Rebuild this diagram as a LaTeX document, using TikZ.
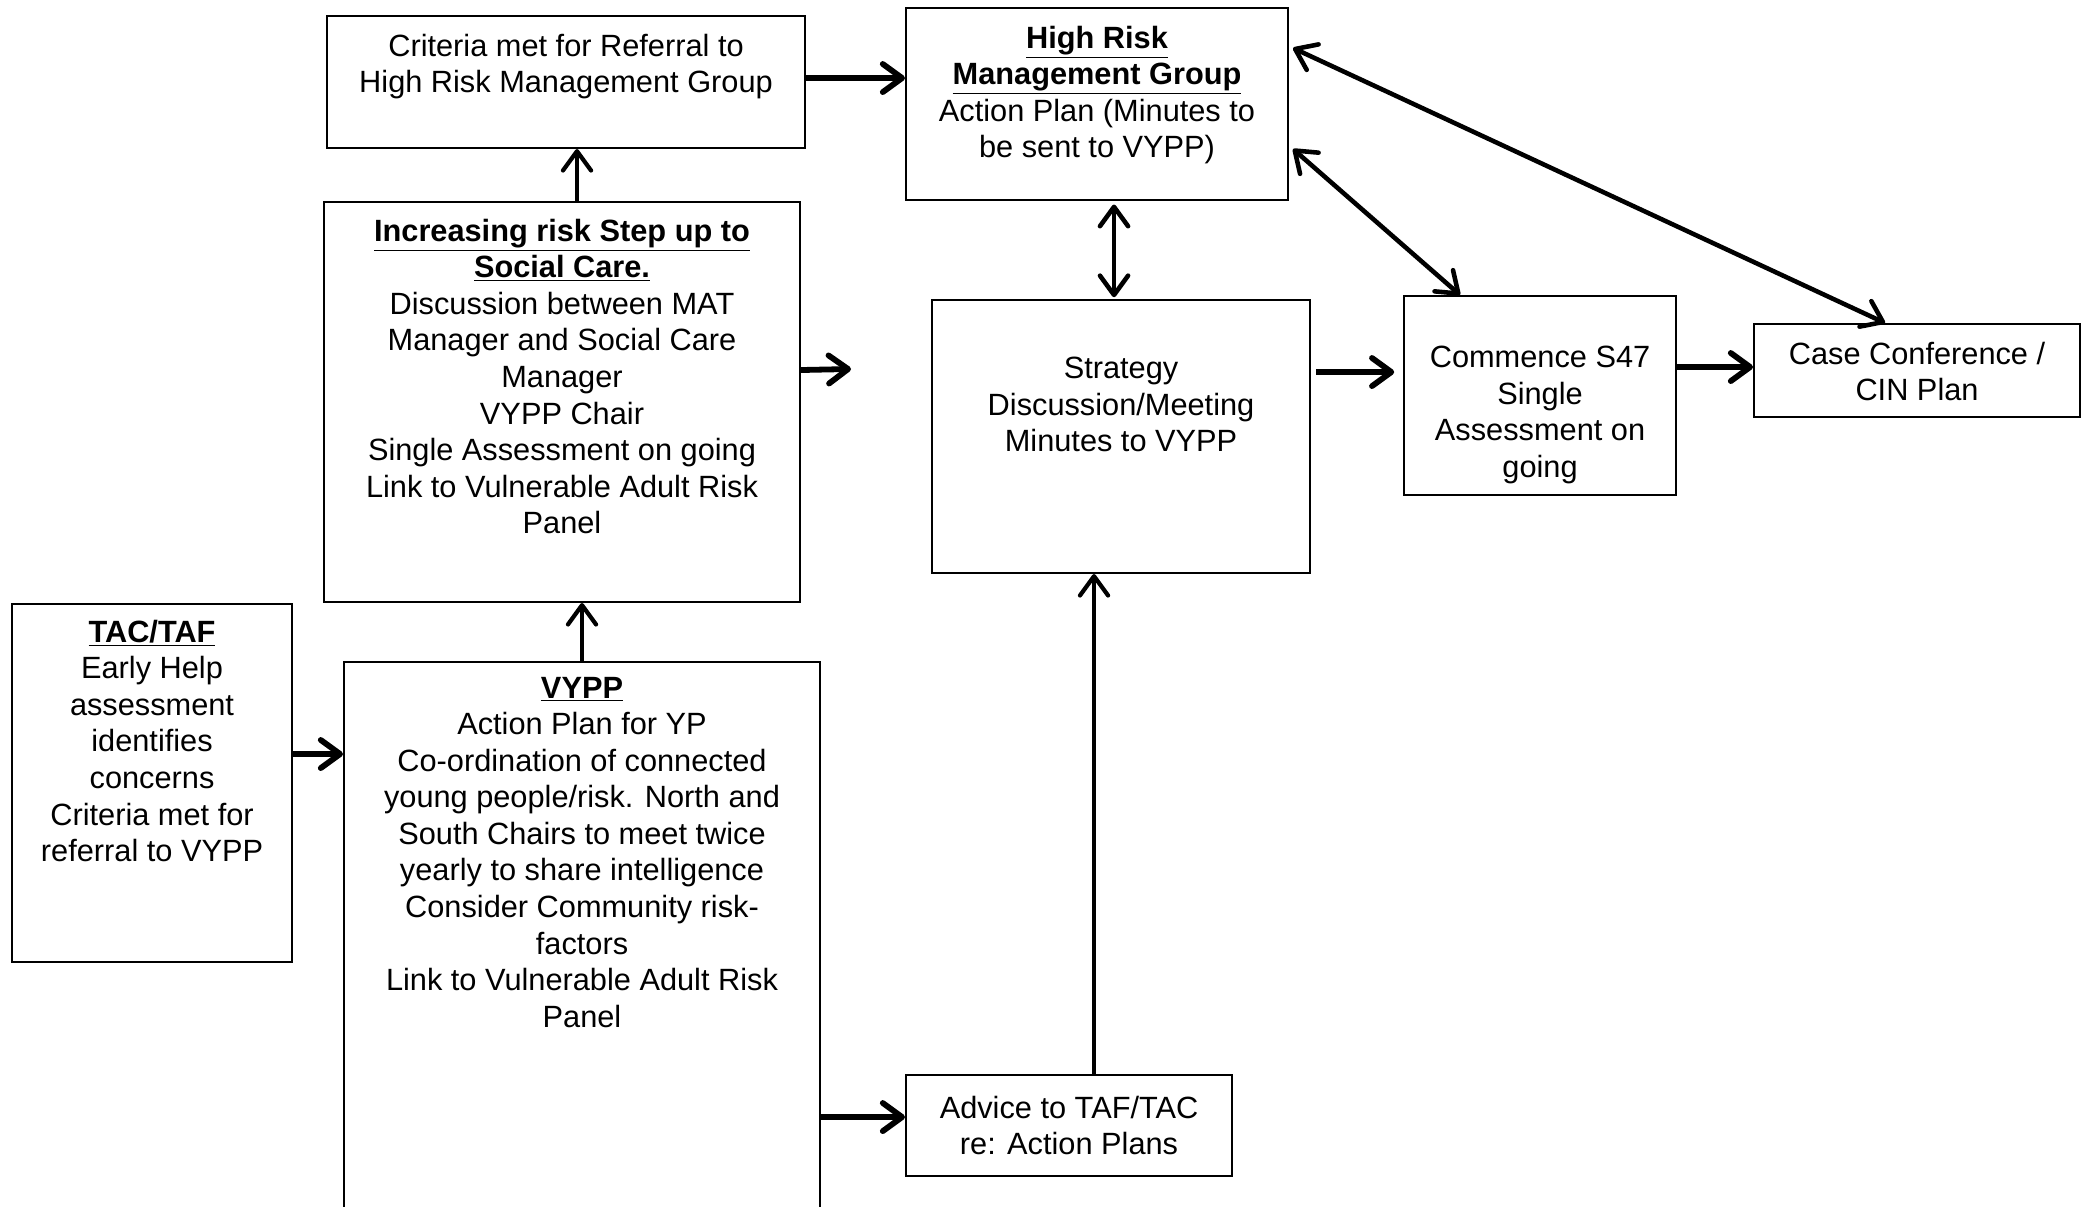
\documentclass[tikz,border=0pt]{standalone}
\usepackage{fontspec}
\setmainfont{Liberation Sans}
\usetikzlibrary{arrows.meta}

\newcommand{\boxtext}[4]{\parbox[c][#2][t]{#1}{\centering\vspace*{#3}#4\par}}
\newcommand{\hd}[1]{\underline{\textbf{#1}}}

\begin{document}
\begin{tikzpicture}%
    [x = 0.02cm, y = -0.02cm,
     every node/.style = {font = \fontsize{17.5}{20.8}\selectfont},
     box/.style = {draw, line width = 1.2pt, inner sep = 0pt, anchor = north west},
     harr/.style = {-{Straight Barb[length = 11pt, width = 16pt, round]}, line width = 3.3pt},
     varr/.style = {-{Straight Barb[length = 11pt, width = 16pt, round]}, line width = 2.4pt},
     dbl/.style = {{Straight Barb[length = 11pt, width = 16pt, round]}-{Straight Barb[length = 11pt, width = 16pt, round]}, line width = 2.6pt}]
    \useasboundingbox (0,0) rectangle (2084,1206);

    \node [box] (crit) at (326,15) {\boxtext{9.56cm}{2.64cm}{0.36cm}{Criteria met for Referral to\\High Risk Management Group}};
    \node [box] (hrmg) at (905,7) {\boxtext{7.64cm}{3.84cm}{0.36cm}{\hd{High Risk}\\\hd{Management Group}\\Action Plan (Minutes to\\be sent to VYPP)}};
    \node [box] (incr) at (323,201) {\boxtext{9.52cm}{8.0cm}{0.34cm}{\hd{Increasing risk Step up to}\\\hd{Social Care.}\\Discussion between MAT\\Manager and Social Care\\Manager\\VYPP Chair\\Single Assessment on going\\Link to Vulnerable Adult Risk\\Panel}};
    \node [box] (strat) at (931,299) {\boxtext{7.56cm}{5.46cm}{1.14cm}{Strategy\\Discussion/Meeting\\Minutes to VYPP}};
    \node [box] (comm) at (1403,295) {\boxtext{5.44cm}{3.98cm}{1.0cm}{Commence S47\\Single\\Assessment on\\going}};
    \node [box] (case) at (1753,323) {\boxtext{6.52cm}{1.86cm}{0.36cm}{Case Conference /\\CIN Plan}};
    \node [box] (tac) at (11,603) {\boxtext{5.6cm}{7.16cm}{0.32cm}{\hd{TAC/TAF}\\Early Help\\assessment\\identifies\\concerns\\Criteria met for\\referral to VYPP}};
    \node [box] (vypp) at (343,661) {\boxtext{9.52cm}{11.98cm}{0.3cm}{\hd{VYPP}\\Action Plan for YP\\Co-ordination of connected\\young people/risk. North and\\South Chairs to meet twice\\yearly to share intelligence\\Consider Community risk-\\factors\\Link to Vulnerable Adult Risk\\Panel}};
    \node [box] (adv) at (905,1074) {\boxtext{6.52cm}{2.02cm}{0.42cm}{Advice to TAF/TAC\\re: Action Plans}};
    \coordinate (stub) at (851,369);

    \draw [varr] ([xshift = 0.3cm]incr.north) -- ([xshift = 0.3cm]incr.north |- crit.south);
    \draw [varr] (vypp.north) -- (vypp.north |- incr.south);
    \draw [harr] ([yshift = 0.58cm]tac.east) -- ([yshift = 0.58cm]tac.east -| vypp.west);
    \draw [harr] ([yshift = 0.08cm]crit.east) -- ([yshift = 0.08cm]crit.east -| hrmg.west);
    \draw [harr] ([yshift = 0.64cm]incr.east) -- (stub);
    \draw [dbl, shorten <= 2pt, shorten >= 1pt] ([xshift = 0.34cm]hrmg.south) -- ([xshift = 0.34cm]hrmg.south |- strat.north);
    \draw [harr, shorten <= 3pt, shorten >= 5pt] ([yshift = 1.29cm]strat.east) -- ([yshift = 1.29cm]strat.east -| comm.west);
    \draw [harr] ([yshift = 0.57cm]comm.east) -- ([yshift = 0.57cm]comm.east -| case.west);
    \draw [dbl] ([xshift = 0.08cm, yshift = -0.9cm]hrmg.east) -- ([xshift = -1.6cm]comm.north);
    \draw [dbl] ([xshift = 0.08cm, yshift = 1.12cm]hrmg.east) -- ([xshift = -0.64cm]case.north);
    \draw [harr] ([yshift = 0.17cm]adv.west -| vypp.east) -- ([yshift = 0.17cm]adv.west);
    \draw [varr] ([xshift = 0.5cm]adv.north) -- ([xshift = 0.5cm]adv.north |- strat.south);
\end{tikzpicture}
\end{document}
